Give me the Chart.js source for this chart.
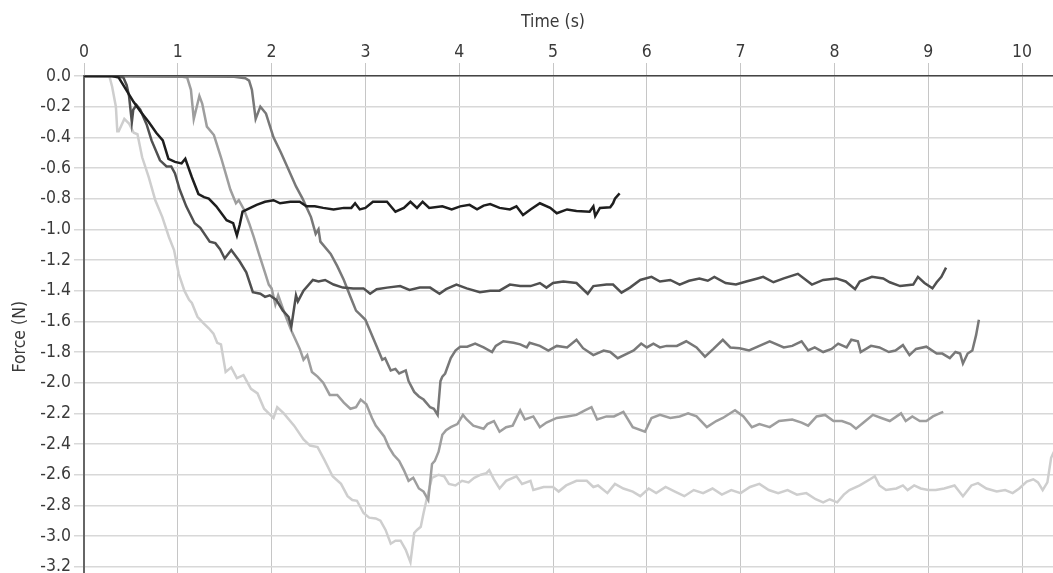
<!DOCTYPE html>
<html>
<head>
<meta charset="utf-8">
<title>Force over time</title>
<script src="https://cdn.jsdelivr.net/npm/chart.js@4.4.1/dist/chart.umd.min.js"></script>
<style>
  html, body { margin: 0; padding: 0; background: #fff; overflow: hidden; }
  #wrap { width: 1053px; height: 573px; position: relative; }
</style>
</head>
<body>
<div id="wrap"><canvas id="chart"></canvas></div>
<script>
// Each trial as [time (s), force (N)] samples
const trialA = [[0,0],[0.30,0],[0.37,-0.01],[0.46,-0.10],[0.53,-0.17],[0.60,-0.23],[0.69,-0.30],[0.77,-0.37],[0.84,-0.42],[0.90,-0.54],[0.97,-0.56],[1.04,-0.57],[1.08,-0.54],[1.15,-0.66],[1.22,-0.77],[1.28,-0.79],[1.33,-0.80],[1.41,-0.85],[1.52,-0.94],[1.59,-0.96],[1.63,-1.04],[1.66,-0.97],[1.69,-0.885],[1.74,-0.87],[1.84,-0.84],[1.93,-0.82],[2.02,-0.81],[2.09,-0.83],[2.20,-0.82],[2.30,-0.82],[2.37,-0.85],[2.46,-0.85],[2.55,-0.86],[2.66,-0.87],[2.77,-0.86],[2.85,-0.86],[2.89,-0.83],[2.94,-0.87],[3.00,-0.86],[3.08,-0.82],[3.16,-0.82],[3.23,-0.82],[3.32,-0.885],[3.41,-0.86],[3.48,-0.82],[3.55,-0.86],[3.61,-0.82],[3.68,-0.86],[3.82,-0.85],[3.92,-0.87],[4.01,-0.85],[4.11,-0.84],[4.19,-0.87],[4.26,-0.845],[4.33,-0.835],[4.43,-0.86],[4.54,-0.87],[4.61,-0.85],[4.68,-0.906],[4.76,-0.87],[4.86,-0.83],[4.97,-0.86],[5.04,-0.895],[5.15,-0.87],[5.25,-0.88],[5.39,-0.885],[5.43,-0.85],[5.45,-0.913],[5.50,-0.86],[5.61,-0.856],[5.64,-0.83],[5.66,-0.80],[5.71,-0.765]];

const trialB = [[0,0],[0.35,0],[0.42,-0.01],[0.455,-0.06],[0.48,-0.13],[0.51,-0.30],[0.525,-0.22],[0.56,-0.19],[0.60,-0.22],[0.67,-0.32],[0.72,-0.42],[0.81,-0.55],[0.88,-0.59],[0.93,-0.59],[0.97,-0.635],[1.02,-0.74],[1.09,-0.85],[1.18,-0.96],[1.24,-0.99],[1.34,-1.08],[1.40,-1.09],[1.45,-1.13],[1.50,-1.19],[1.57,-1.135],[1.66,-1.21],[1.73,-1.28],[1.80,-1.41],[1.88,-1.42],[1.93,-1.44],[1.98,-1.43],[2.05,-1.46],[2.12,-1.53],[2.18,-1.57],[2.21,-1.635],[2.26,-1.43],[2.28,-1.47],[2.34,-1.40],[2.44,-1.33],[2.50,-1.34],[2.57,-1.33],[2.66,-1.36],[2.76,-1.38],[2.87,-1.385],[2.98,-1.385],[3.05,-1.42],[3.12,-1.39],[3.23,-1.38],[3.37,-1.37],[3.47,-1.395],[3.58,-1.38],[3.69,-1.38],[3.79,-1.42],[3.86,-1.39],[3.97,-1.36],[4.08,-1.385],[4.22,-1.41],[4.33,-1.40],[4.43,-1.40],[4.54,-1.36],[4.65,-1.37],[4.76,-1.37],[4.86,-1.35],[4.93,-1.38],[5.00,-1.35],[5.11,-1.34],[5.25,-1.35],[5.37,-1.42],[5.43,-1.37],[5.57,-1.36],[5.64,-1.36],[5.73,-1.413],[5.82,-1.38],[5.93,-1.33],[6.05,-1.31],[6.14,-1.34],[6.25,-1.33],[6.35,-1.36],[6.45,-1.335],[6.56,-1.32],[6.65,-1.335],[6.72,-1.31],[6.84,-1.35],[6.95,-1.36],[7.06,-1.34],[7.18,-1.32],[7.24,-1.31],[7.35,-1.345],[7.46,-1.32],[7.61,-1.29],[7.76,-1.36],[7.88,-1.33],[8.02,-1.32],[8.12,-1.34],[8.22,-1.39],[8.27,-1.34],[8.40,-1.31],[8.52,-1.32],[8.59,-1.345],[8.70,-1.37],[8.84,-1.36],[8.89,-1.31],[8.96,-1.35],[9.045,-1.385],[9.09,-1.345],[9.14,-1.31],[9.19,-1.25]];

const trialC = [[0,0],[1.60,-0.005],[1.72,-0.015],[1.76,-0.03],[1.79,-0.09],[1.83,-0.28],[1.88,-0.20],[1.94,-0.245],[2.02,-0.40],[2.10,-0.50],[2.18,-0.61],[2.26,-0.72],[2.33,-0.80],[2.42,-0.92],[2.47,-1.03],[2.50,-1.00],[2.52,-1.08],[2.63,-1.16],[2.70,-1.24],[2.77,-1.33],[2.84,-1.44],[2.90,-1.53],[2.95,-1.56],[3.00,-1.59],[3.09,-1.72],[3.18,-1.85],[3.21,-1.84],[3.27,-1.92],[3.32,-1.91],[3.36,-1.94],[3.43,-1.92],[3.46,-1.99],[3.52,-2.06],[3.57,-2.09],[3.62,-2.11],[3.69,-2.16],[3.73,-2.17],[3.77,-2.21],[3.80,-1.99],[3.82,-1.96],[3.85,-1.94],[3.91,-1.84],[3.96,-1.79],[4.01,-1.765],[4.085,-1.765],[4.17,-1.745],[4.26,-1.77],[4.35,-1.80],[4.39,-1.76],[4.47,-1.73],[4.58,-1.74],[4.65,-1.75],[4.72,-1.77],[4.75,-1.74],[4.86,-1.76],[4.95,-1.79],[5.04,-1.76],[5.15,-1.77],[5.25,-1.72],[5.32,-1.775],[5.43,-1.82],[5.54,-1.79],[5.61,-1.80],[5.69,-1.84],[5.79,-1.81],[5.86,-1.79],[5.94,-1.745],[6.00,-1.77],[6.07,-1.745],[6.14,-1.77],[6.21,-1.76],[6.32,-1.76],[6.42,-1.73],[6.53,-1.77],[6.62,-1.83],[6.71,-1.78],[6.81,-1.72],[6.89,-1.77],[6.99,-1.775],[7.09,-1.79],[7.20,-1.76],[7.31,-1.73],[7.46,-1.77],[7.55,-1.76],[7.65,-1.73],[7.72,-1.79],[7.79,-1.77],[7.88,-1.80],[7.97,-1.78],[8.04,-1.745],[8.13,-1.77],[8.18,-1.72],[8.25,-1.73],[8.28,-1.80],[8.39,-1.76],[8.48,-1.77],[8.58,-1.80],[8.65,-1.79],[8.73,-1.755],[8.80,-1.82],[8.87,-1.78],[8.98,-1.765],[9.09,-1.81],[9.15,-1.81],[9.23,-1.84],[9.29,-1.80],[9.34,-1.81],[9.37,-1.875],[9.42,-1.81],[9.47,-1.79],[9.51,-1.69],[9.54,-1.59]];

const trialD = [[0,0],[1.05,-0.005],[1.10,-0.01],[1.14,-0.09],[1.17,-0.28],[1.23,-0.13],[1.26,-0.18],[1.31,-0.33],[1.385,-0.385],[1.46,-0.53],[1.51,-0.635],[1.56,-0.74],[1.62,-0.83],[1.65,-0.81],[1.705,-0.87],[1.76,-0.96],[1.81,-1.05],[1.865,-1.16],[1.92,-1.265],[1.97,-1.36],[2.00,-1.385],[2.04,-1.49],[2.07,-1.43],[2.14,-1.55],[2.21,-1.66],[2.27,-1.74],[2.30,-1.78],[2.34,-1.85],[2.38,-1.82],[2.43,-1.93],[2.49,-1.96],[2.55,-2.00],[2.62,-2.08],[2.70,-2.08],[2.77,-2.13],[2.84,-2.17],[2.90,-2.16],[2.95,-2.11],[3.01,-2.14],[3.07,-2.23],[3.11,-2.28],[3.20,-2.35],[3.25,-2.42],[3.30,-2.47],[3.36,-2.51],[3.41,-2.57],[3.46,-2.64],[3.51,-2.62],[3.57,-2.69],[3.62,-2.71],[3.67,-2.765],[3.71,-2.53],[3.74,-2.51],[3.78,-2.45],[3.82,-2.34],[3.86,-2.31],[3.91,-2.29],[3.98,-2.27],[4.04,-2.21],[4.08,-2.24],[4.15,-2.28],[4.26,-2.30],[4.30,-2.27],[4.37,-2.25],[4.43,-2.32],[4.50,-2.29],[4.57,-2.28],[4.65,-2.18],[4.70,-2.24],[4.79,-2.22],[4.86,-2.29],[4.93,-2.26],[5.04,-2.23],[5.15,-2.22],[5.25,-2.21],[5.34,-2.18],[5.41,-2.16],[5.47,-2.24],[5.57,-2.22],[5.65,-2.22],[5.75,-2.19],[5.85,-2.29],[5.98,-2.32],[6.05,-2.23],[6.14,-2.21],[6.25,-2.23],[6.35,-2.22],[6.44,-2.20],[6.53,-2.22],[6.64,-2.29],[6.74,-2.25],[6.81,-2.23],[6.94,-2.18],[7.03,-2.22],[7.12,-2.29],[7.20,-2.27],[7.31,-2.29],[7.41,-2.25],[7.55,-2.24],[7.65,-2.26],[7.72,-2.28],[7.81,-2.22],[7.90,-2.21],[7.99,-2.25],[8.08,-2.25],[8.17,-2.27],[8.23,-2.30],[8.33,-2.25],[8.41,-2.21],[8.50,-2.23],[8.59,-2.25],[8.71,-2.20],[8.76,-2.25],[8.83,-2.22],[8.91,-2.25],[8.98,-2.25],[9.05,-2.22],[9.12,-2.20],[9.16,-2.19]];

const trialE = [[0,0],[0.27,0],[0.30,-0.07],[0.34,-0.20],[0.355,-0.36],[0.37,-0.36],[0.43,-0.28],[0.48,-0.31],[0.53,-0.37],[0.57,-0.38],[0.62,-0.53],[0.69,-0.66],[0.76,-0.81],[0.835,-0.92],[0.905,-1.05],[0.96,-1.135],[1.01,-1.29],[1.07,-1.40],[1.12,-1.46],[1.15,-1.48],[1.21,-1.57],[1.27,-1.61],[1.33,-1.645],[1.38,-1.68],[1.42,-1.74],[1.46,-1.75],[1.51,-1.93],[1.57,-1.90],[1.63,-1.97],[1.70,-1.95],[1.78,-2.04],[1.85,-2.07],[1.92,-2.17],[1.97,-2.20],[2.02,-2.23],[2.06,-2.16],[2.13,-2.20],[2.24,-2.28],[2.34,-2.37],[2.41,-2.41],[2.49,-2.42],[2.56,-2.50],[2.65,-2.61],[2.74,-2.66],[2.81,-2.74],[2.86,-2.765],[2.91,-2.77],[2.98,-2.85],[3.04,-2.88],[3.11,-2.885],[3.16,-2.90],[3.215,-2.96],[3.27,-3.05],[3.32,-3.03],[3.375,-3.03],[3.43,-3.09],[3.48,-3.17],[3.52,-2.98],[3.55,-2.96],[3.59,-2.94],[3.62,-2.85],[3.66,-2.74],[3.71,-2.62],[3.78,-2.60],[3.84,-2.61],[3.89,-2.66],[3.96,-2.67],[4.03,-2.64],[4.10,-2.65],[4.16,-2.62],[4.23,-2.60],[4.29,-2.59],[4.32,-2.57],[4.37,-2.63],[4.43,-2.69],[4.50,-2.64],[4.61,-2.61],[4.67,-2.66],[4.76,-2.64],[4.79,-2.70],[4.90,-2.68],[5.00,-2.68],[5.06,-2.71],[5.14,-2.67],[5.25,-2.64],[5.36,-2.64],[5.43,-2.68],[5.48,-2.67],[5.58,-2.72],[5.66,-2.66],[5.75,-2.69],[5.85,-2.71],[5.93,-2.74],[6.02,-2.69],[6.10,-2.72],[6.20,-2.68],[6.30,-2.71],[6.40,-2.74],[6.50,-2.70],[6.60,-2.72],[6.70,-2.69],[6.80,-2.73],[6.90,-2.70],[7.00,-2.72],[7.10,-2.68],[7.20,-2.66],[7.30,-2.70],[7.40,-2.72],[7.50,-2.70],[7.60,-2.73],[7.70,-2.72],[7.80,-2.76],[7.88,-2.78],[7.95,-2.76],[8.03,-2.78],[8.10,-2.73],[8.16,-2.70],[8.27,-2.67],[8.38,-2.63],[8.43,-2.61],[8.48,-2.67],[8.55,-2.70],[8.66,-2.69],[8.73,-2.67],[8.78,-2.70],[8.85,-2.67],[8.92,-2.69],[9.00,-2.70],[9.08,-2.70],[9.17,-2.69],[9.28,-2.67],[9.37,-2.74],[9.46,-2.67],[9.53,-2.655],[9.62,-2.69],[9.73,-2.71],[9.82,-2.70],[9.90,-2.72],[9.97,-2.69],[10.05,-2.645],[10.12,-2.63],[10.17,-2.65],[10.22,-2.70],[10.27,-2.65],[10.31,-2.49],[10.34,-2.45]];

// darkest first so it sits on top
const trials = [trialA, trialB, trialC, trialD, trialE];
const trialColors = ["#1e1e1e", "#505050", "#787878", "#9e9e9e", "#cecece"];

// axis titles are centred on the labelled spans, not the whole plot box
const timeSpan = [0, 10];
const forceSpan = [0, -3.4];

const FONT = '"DejaVu Sans Condensed", "Liberation Sans Narrow", sans-serif';
const axisFont = { family: FONT, size: 17.5, weight: "normal" };
const textColor = "#3a3a3a";

const datasets = trials.map((points, i) => ({
  data: points.map(([t, f]) => ({ x: t, y: f })),
  borderColor: trialColors[i],
  borderWidth: 2.5,
  pointRadius: 0,
  tension: 0,
  fill: false,
}));

const axisTitles = {
  id: "axisTitles",
  afterDraw(chart) {
    const { ctx, scales: { x, y } } = chart;
    const cx = (x.getPixelForValue(timeSpan[0]) + x.getPixelForValue(timeSpan[1])) / 2;
    const cy = (y.getPixelForValue(forceSpan[0]) + y.getPixelForValue(forceSpan[1])) / 2;
    ctx.save();
    ctx.fillStyle = textColor;
    ctx.font = `${axisFont.size}px ${FONT}`;
    ctx.textAlign = "center";
    ctx.textBaseline = "middle";
    ctx.fillText("Time (s)", cx, 22);
    ctx.translate(20, cy);
    ctx.rotate(-Math.PI / 2);
    ctx.fillText("Force (N)", 0, 0);
    ctx.restore();
  },
};

new Chart(document.getElementById("chart"), {
  type: "line",
  data: { datasets },
  plugins: [axisTitles],
  options: {
    responsive: true,
    maintainAspectRatio: false,
    animation: false,
    layout: { padding: 0 },
    plugins: {
      legend: { display: false },
      tooltip: { enabled: false },
    },
    scales: {
      x: {
        type: "linear",
        position: "top",
        min: 0,
        max: 10.33,
        ticks: {
          stepSize: 1,
          includeBounds: false,
          maxRotation: 0,
          padding: 0,
          color: textColor,
          font: axisFont,
        },
        grid: { color: "#c6c6c6", lineWidth: 1, tickLength: 13 },
        border: { color: "#444", width: 1.5 },
        afterFit: (scale) => {
          scale.height = 76;
          scale.paddingLeft = 0;
          scale.paddingRight = 0;
        },
      },
      y: {
        type: "linear",
        min: -3.241,
        max: 0,
        ticks: {
          stepSize: 0.2,
          includeBounds: false,
          padding: 3,
          color: textColor,
          font: axisFont,
          callback: (v) => v.toFixed(1),
        },
        grid: { color: "#d8d8d8", lineWidth: 1.5, tickLength: 10 },
        border: { color: "#666", width: 2 },
        afterFit: (scale) => {
          scale.width = 84;
          scale.paddingTop = 0;
          scale.paddingBottom = 0;
        },
      },
    },
  },
});
</script>
</body>
</html>
